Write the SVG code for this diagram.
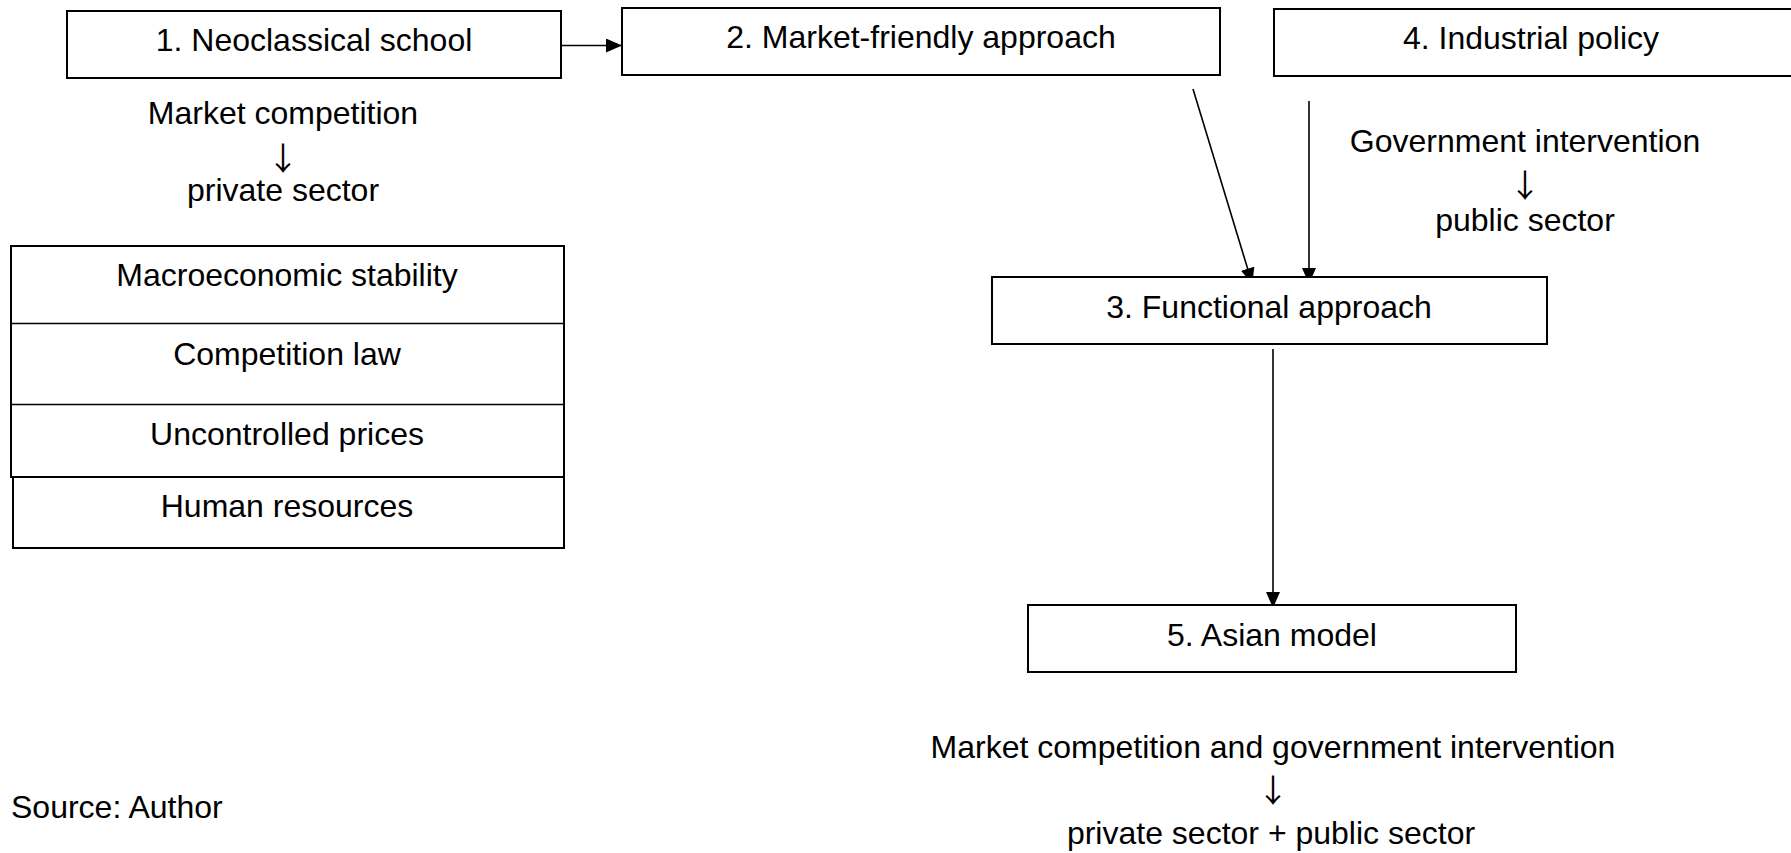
<svg xmlns="http://www.w3.org/2000/svg" width="1791" height="853" viewBox="0 0 1791 853">
<style>
text{font-family:"Liberation Sans",Arial,sans-serif;font-size:32px;fill:#000;text-anchor:middle}
text.arr{font-family:"Noto Sans CJK JP","Liberation Sans",sans-serif;font-size:32px}
.box{fill:#fff;stroke:#000;stroke-width:2}
.con{stroke:#000;stroke-width:1.6;fill:none}
</style>
<defs>
<marker id="ah" markerUnits="userSpaceOnUse" markerWidth="16" markerHeight="14" refX="15" refY="7" orient="auto">
<path d="M0,0 L16,7 L0,14 Z" fill="#000"/>
</marker>
</defs>
<rect width="1791" height="853" fill="#fff"/>
<g id="connectors">
<line class="con" x1="562" y1="45.5" x2="621" y2="45.5" marker-end="url(#ah)"/>
<line class="con" x1="1193" y1="89" x2="1252" y2="283" marker-end="url(#ah)"/>
<line class="con" x1="1309" y1="101" x2="1309" y2="283" marker-end="url(#ah)"/>
<line class="con" x1="1273" y1="349" x2="1273" y2="607" marker-end="url(#ah)"/>
</g>
<g id="node1">
<rect class="box" x="67" y="11" width="494" height="67"/>
<text x="314" y="51">1. Neoclassical school</text>
</g>
<g id="node1-note">
<text x="283" y="124">Market competition</text>
<text class="arr" x="283" y="170">↓</text>
<text x="283" y="201">private sector</text>
</g>
<g id="node2">
<rect class="box" x="622" y="8" width="598" height="67"/>
<text x="921" y="48">2. Market-friendly approach</text>
</g>
<g id="node4">
<rect class="box" x="1274" y="9" width="530" height="67"/>
<text x="1531" y="49">4. Industrial policy</text>
</g>
<g id="node4-note">
<text x="1525" y="152">Government intervention</text>
<text class="arr" x="1525" y="197">↓</text>
<text x="1525" y="231">public sector</text>
</g>
<g id="table">
<rect class="box" x="11" y="246" width="553" height="231"/>
<line class="con" x1="11" y1="323.5" x2="564" y2="323.5" stroke-width="2"/>
<line class="con" x1="11" y1="404.5" x2="564" y2="404.5" stroke-width="2"/>
<rect class="box" x="13" y="477" width="551" height="71"/>
<text x="287" y="286">Macroeconomic stability</text>
<text x="287" y="365">Competition law</text>
<text x="287" y="445">Uncontrolled prices</text>
<text x="287" y="517">Human resources</text>
</g>
<g id="node3">
<rect class="box" x="992" y="277" width="555" height="67"/>
<text x="1269" y="318">3. Functional approach</text>
</g>
<g id="node5">
<rect class="box" x="1028" y="605" width="488" height="67"/>
<text x="1272" y="646">5. Asian model</text>
</g>
<g id="node5-note">
<text x="1273" y="758">Market competition and government intervention</text>
<text class="arr" x="1273" y="802">↓</text>
<text x="1271" y="844">private sector + public sector</text>
</g>
<text x="11" y="818" style="text-anchor:start">Source: Author</text>
</svg>
